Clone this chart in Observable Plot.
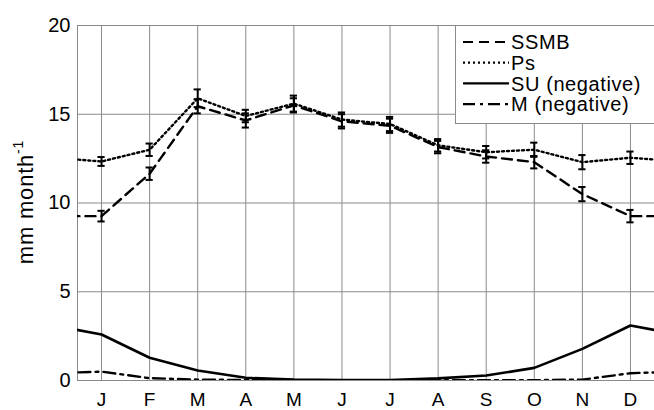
<!DOCTYPE html>
<html>
<head>
<meta charset="utf-8">
<script src="https://cdn.jsdelivr.net/npm/d3@7"></script>
<script src="https://cdn.jsdelivr.net/npm/@observablehq/plot@0.6"></script>
<style>
  html, body { margin: 0; padding: 0; background: #fff; }
  #chart { width: 654px; height: 410px; overflow: hidden; }
</style>
</head>
<body>
<div id="chart"></div>
<script>
const months = ["J","F","M","A","M","J","J","A","S","O","N","D"];
const ssmb    = [9.26, 11.65, 15.45, 14.65, 15.5, 14.6, 14.35, 13.15, 12.62, 12.3, 10.5, 9.26];
const ssmbErr = [0.3, 0.35, 0.4, 0.4, 0.4, 0.4, 0.4, 0.35, 0.35, 0.35, 0.4, 0.35];
const ps      = [12.34, 13.0, 15.9, 14.9, 15.6, 14.7, 14.45, 13.25, 12.86, 13.0, 12.3, 12.55];
const psErr   = [0.25, 0.35, 0.5, 0.35, 0.45, 0.4, 0.4, 0.35, 0.35, 0.4, 0.4, 0.35];
const su      = [2.59, 1.28, 0.56, 0.15, 0.05, 0.03, 0.03, 0.12, 0.28, 0.71, 1.78, 3.1];
const melt    = [0.5, 0.13, 0.05, 0.03, 0.02, 0.02, 0.02, 0.02, 0.02, 0.02, 0.05, 0.41];
const yTicks  = [0, 5, 10, 15, 20];
const seriesNames = ["SSMB", "Ps", "SU (negative)", "M (negative)"];

// annual cycle: repeat Dec before Jan and Jan after Dec (clipped at frame)
const wrap = arr => d3.range(-1, 13).map(i => ({i, v: arr[(i + 12) % 12]}));
const withErr = (arr, err) => arr.map((v, i) => ({i, v, e: err[i]}));

const font = "'Liberation Sans', Arial, Helvetica, sans-serif";
const dashes = ["10,6", "2,3", null, "12,5,3,5"];
const widths = [2.4, 2.4, 2.6, 2.4];

const lineOpts = (k) => ({x: "i", y: "v", stroke: "black", strokeWidth: widths[k], clip: true,
  strokeDasharray: dashes[k] ?? undefined, strokeLinejoin: "round"});

const errMarks = (rows) => [
  Plot.ruleX(rows, {x: "i", y1: d => d.v - d.e, y2: d => d.v + d.e, stroke: "black", strokeWidth: 2}),
  Plot.ruleY(rows, {y: d => d.v + d.e, x1: d => d.i - 0.075, x2: d => d.i + 0.075, stroke: "black", strokeWidth: 2}),
  Plot.ruleY(rows, {y: d => d.v - d.e, x1: d => d.i - 0.075, x2: d => d.i + 0.075, stroke: "black", strokeWidth: 2})
];

const chart = Plot.plot({
  width: 654,
  height: 410,
  marginLeft: 77,
  marginRight: 0,
  marginTop: 25,
  marginBottom: 30,
  style: {fontFamily: font, background: "white", color: "black"},
  x: {domain: [-0.5, 11.5]},
  y: {domain: [0, 20]},
  marks: [
    Plot.gridX(d3.range(12), {stroke: "#8a8a8a", strokeOpacity: 1, strokeWidth: 1}),
    Plot.gridY(yTicks, {stroke: "#8a8a8a", strokeOpacity: 1, strokeWidth: 1}),
    Plot.ruleX([-0.5], {stroke: "#8a8a8a", strokeWidth: 1}),
    Plot.axisX(d3.range(12), {tickFormat: i => months[i], tickSize: 0, tickPadding: 12, fontSize: 19, label: null}),
    Plot.axisY(yTicks, {tickSize: 0, tickPadding: 7, fontSize: 20, label: null}),
    Plot.line(wrap(melt), lineOpts(3)),
    Plot.line(wrap(su), lineOpts(2)),
    Plot.line(wrap(ssmb), lineOpts(0)),
    Plot.line(wrap(ps), lineOpts(1)),
    ...errMarks(withErr(ssmb, ssmbErr)),
    ...errMarks(withErr(ps, psErr))
  ]
});

document.getElementById("chart").appendChild(chart);

// y-axis label with superscript
const svg = d3.select(chart);
const lab = svg.append("text")
  .attr("transform", "translate(33,202) rotate(-90)")
  .attr("text-anchor", "middle")
  .attr("font-family", font)
  .attr("font-size", 22)
  .attr("letter-spacing", 0.8)
  .attr("fill", "black");
lab.append("tspan").text("mm month");
lab.append("tspan").attr("dy", -10).attr("font-size", 14).text("-1");

// legend
const lg = svg.append("g").attr("font-family", font).attr("font-size", 20).attr("text-anchor", "start");
lg.append("rect").attr("x", 455.5).attr("y", 25.5).attr("width", 210).attr("height", 98)
  .attr("fill", "white").attr("stroke", "#8a8a8a");
seriesNames.forEach((name, k) => {
  const y = 42 + k * 20.7;
  const ln = lg.append("line").attr("x1", 463).attr("x2", 509).attr("y1", y).attr("y2", y)
    .attr("stroke", "black").attr("stroke-width", 2.2);
  if (dashes[k]) ln.attr("stroke-dasharray", dashes[k]);
  lg.append("text").attr("x", 511).attr("y", y).attr("dy", "0.36em").attr("fill", "black")
    .attr("letter-spacing", 0.6).attr("text-anchor", "start").text(name);
});
</script>
</body>
</html>
